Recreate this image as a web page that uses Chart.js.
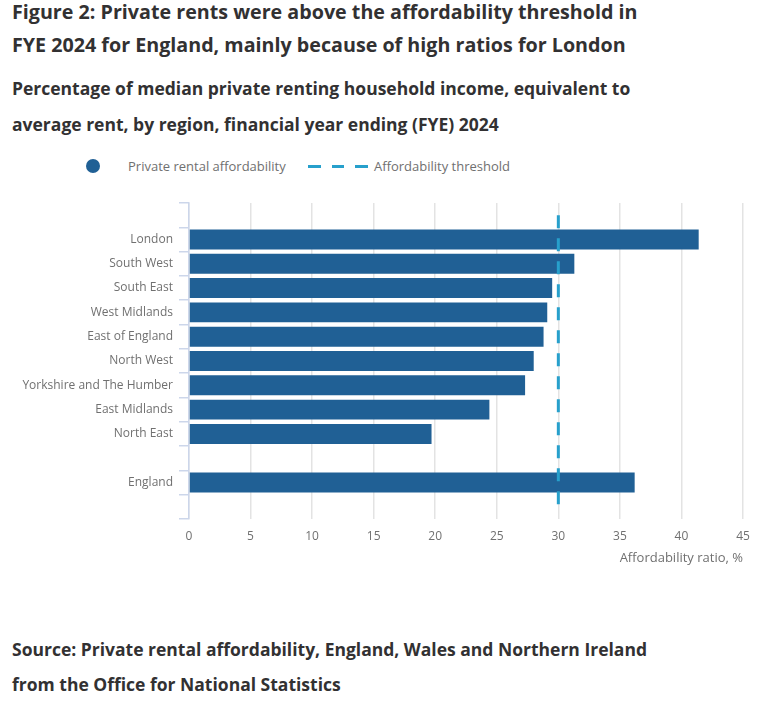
<!DOCTYPE html>
<html>
<head>
<meta charset="utf-8">
<script src="https://cdn.jsdelivr.net/npm/chart.js@4/dist/chart.umd.min.js"></script>
<style>
  html, body { margin: 0; padding: 0; background: #ffffff; }
  body { width: 774px; height: 706px; position: relative; overflow: hidden; font-family: 'Open Sans', sans-serif; }
  .title { position: absolute; left: 12px; top: -5px; font-size: 19.7px; font-weight: 700; color: #323132; line-height: 33px; width: 770px; }
  .subtitle { position: absolute; left: 12px; top: 70px; font-size: 17.5px; font-weight: 700; color: #323132; line-height: 36px; width: 760px; }
  .source { position: absolute; left: 12px; top: 632px; font-size: 17.5px; font-weight: 700; color: #323132; line-height: 35px; width: 760px; }
  .legend { position: absolute; top: 156px; left: 0; height: 20px; font-size: 13px; color: #707070; }
  .legend .dot { position: absolute; left: 86px; top: 3px; width: 14px; height: 14px; border-radius: 50%; background: #206095; }
  .legend .t1 { position: absolute; left: 128px; top: 0; white-space: nowrap; line-height: 20px; }
  .legend .dash { position: absolute; left: 308px; top: 9px; width: 60px; height: 3px;
     background: repeating-linear-gradient(to right, #27a0cc 0 12.5px, transparent 12.5px 23.5px); }
  .legend .t2 { position: absolute; left: 374px; top: 0; white-space: nowrap; line-height: 20px; }
  #wrap { position: absolute; left: 0; top: 140px; width: 774px; height: 440px; }
</style>
</head>
<body>
<div class="title">Figure 2: Private rents were above the affordability threshold in<br>FYE 2024 for England, mainly because of high ratios for London</div>
<div class="subtitle">Percentage of median private renting household income, equivalent to<br>average rent, by region, financial year ending (FYE) 2024</div>
<div class="legend">
  <div class="dot"></div><div class="t1">Private rental affordability</div>
  <div class="dash"></div><div class="t2">Affordability threshold</div>
</div>
<div id="wrap"><canvas id="c" width="774" height="440"></canvas></div>
<div class="source">Source: Private rental affordability, England, Wales and Northern Ireland<br>from the Office for National Statistics</div>
<script>
const regions = ["", "London", "South West", "South East", "West Midlands", "East of England", "North West", "Yorkshire and The Humber", "East Midlands", "North East", "", "England", ""];
const affordability = [null, 41.4, 31.3, 29.5, 29.1, 28.8, 28.0, 27.3, 24.4, 19.7, null, 36.2, null];
const threshold = [30, 30, 30, 30, 30, 30, 30, 30, 30, 30, 30, 30, 30];
const xTicks = [0, 5, 10, 15, 20, 25, 30, 35, 40, 45];

Chart.defaults.font.family = "'Open Sans', sans-serif";
Chart.defaults.color = '#707070';

new Chart(document.getElementById('c'), {
  data: {
    labels: regions,
    datasets: [
      {
        type: 'line',
        label: 'Affordability threshold',
        data: threshold,
        borderColor: '#27a0cc',
        borderWidth: 3,
        borderDash: [13, 10],
        pointRadius: 0,
        fill: false,
        order: 0
      },
      {
        type: 'bar',
        label: 'Private rental affordability',
        data: affordability,
        backgroundColor: '#206095',
        borderWidth: 0,
        categoryPercentage: 1,
        barPercentage: 0.82,
        order: 1
      }
    ]
  },
  options: {
    indexAxis: 'y',
    responsive: false,
    animation: false,
    layout: { padding: { top: 63, right: 31, bottom: 10, left: 0 } },
    plugins: { legend: { display: false }, tooltip: { enabled: false } },
    scales: {
      x: {
        type: 'linear',
        min: 0, max: 45,
        afterBuildTicks: (s) => { s.ticks = xTicks.map(v => ({ value: v })); },
        afterFit: (s) => { s.height = 51; },
        grid: { color: '#e3e3e3', drawTicks: false, lineWidth: 1.5 },
        border: { display: false },
        ticks: { padding: 10, font: { size: 12 }, color: '#707070' },
        title: { display: true, text: 'Affordability ratio, %', align: 'end', color: '#707070', font: { size: 13 }, padding: { top: 4 } }
      },
      y: {
        type: 'category',
        offset: true,
        afterFit: (s) => { s.width = 189; },
        grid: { offset: true, drawOnChartArea: false, drawTicks: true, tickLength: 10, color: '#ccd6ea', lineWidth: 1.5 },
        border: { display: true, color: '#ccd6ea', width: 1.5 },
        ticks: { padding: 6, font: { size: 12 }, color: '#707070', autoSkip: false }
      }
    }
  }
});
</script>
</body>
</html>
